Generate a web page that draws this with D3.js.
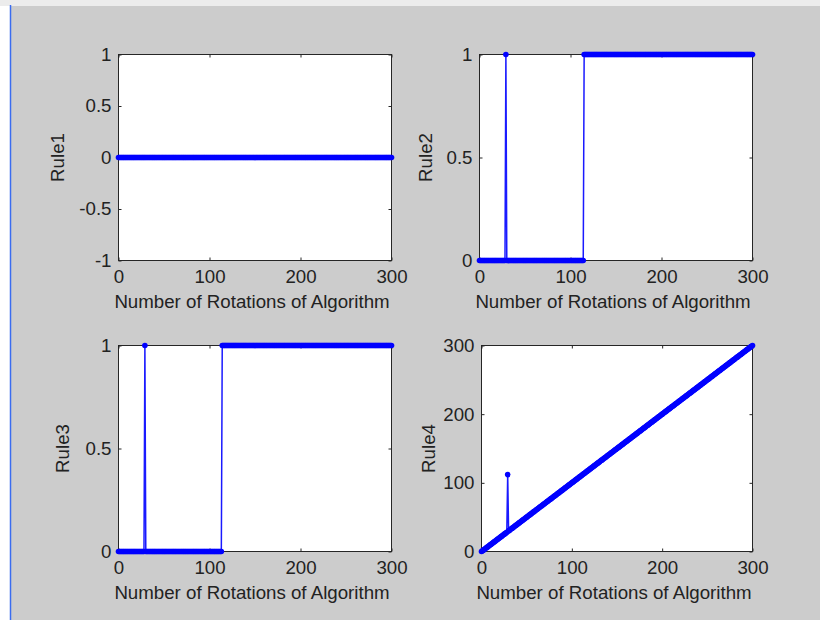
<!DOCTYPE html>
<html>
<head>
<meta charset="utf-8">
<script src="https://cdn.jsdelivr.net/npm/d3@7"></script>
<style>
  body { margin: 0; background: #fff; }
  text { font-family: "Liberation Sans", Arial, sans-serif; fill: #222; }
</style>
</head>
<body>
<div id="fig"></div>
<script>
// x values: rotation number of the algorithm
const rotations = d3.range(0, 301);

// rule values as runs of [value, count]
const rule1Runs = [[0, 301]];
const rule2Runs = [[0, 29], [1, 1], [0, 85], [1, 186]];
const rule3Runs = [[0, 29], [1, 1], [0, 84], [1, 187]];

// rule4 listed point by point (rotations 0..300)
const rule4 = [
  0,1,2,3,4,5,6,7,8,9,10,11,12,13,14,15,16,17,18,19,
  20,21,22,23,24,25,26,27,28,112,30,31,32,33,34,35,36,37,38,39,
  40,41,42,43,44,45,46,47,48,49,50,51,52,53,54,55,56,57,58,59,
  60,61,62,63,64,65,66,67,68,69,70,71,72,73,74,75,76,77,78,79,
  80,81,82,83,84,85,86,87,88,89,90,91,92,93,94,95,96,97,98,99,
  100,101,102,103,104,105,106,107,108,109,110,111,112,113,114,115,116,117,118,119,
  120,121,122,123,124,125,126,127,128,129,130,131,132,133,134,135,136,137,138,139,
  140,141,142,143,144,145,146,147,148,149,150,151,152,153,154,155,156,157,158,159,
  160,161,162,163,164,165,166,167,168,169,170,171,172,173,174,175,176,177,178,179,
  180,181,182,183,184,185,186,187,188,189,190,191,192,193,194,195,196,197,198,199,
  200,201,202,203,204,205,206,207,208,209,210,211,212,213,214,215,216,217,218,219,
  220,221,222,223,224,225,226,227,228,229,230,231,232,233,234,235,236,237,238,239,
  240,241,242,243,244,245,246,247,248,249,250,251,252,253,254,255,256,257,258,259,
  260,261,262,263,264,265,266,267,268,269,270,271,272,273,274,275,276,277,278,279,
  280,281,282,283,284,285,286,287,288,289,290,291,292,293,294,295,296,297,298,299,
  300
];

const xTicks = [0, 100, 200, 300];
const rule1Ticks = [-1, -0.5, 0, 0.5, 1];
const rule23Ticks = [0, 0.5, 1];
const rule4Ticks = [0, 100, 200, 300];
const xLabel = "Number of Rotations of Algorithm";

(function() {
  var width = 820,
      height = 620,
      fontSize = 18.7;

  // expand the runs into one value per rotation
  function expand(runs) {
    var out = [];
    runs.forEach(r => { for (var i = 0; i < r[1]; i++) out.push(r[0]); });
    return out;
  }

  const panels = [
    { name: "Rule1", values: expand(rule1Runs), domain: [-1, 1], ticks: rule1Ticks,
      box: [118.5, 391.5, 54.5, 260.5], labelX: 57 },
    { name: "Rule2", values: expand(rule2Runs), domain: [0, 1], ticks: rule23Ticks,
      box: [479.5, 752.5, 54.5, 260.5], labelX: 425 },
    { name: "Rule3", values: expand(rule3Runs), domain: [0, 1], ticks: rule23Ticks,
      box: [118.5, 391.5, 345.5, 551.5], labelX: 62 },
    { name: "Rule4", values: rule4, domain: [0, 300], ticks: rule4Ticks,
      box: [481.5, 752.5, 345.5, 551.5], labelX: 428 }
  ];

  const svg = d3.select("#fig").append("svg")
                .attr("width", width)
                .attr("height", height);

  // window frame + grey figure background
  svg.append("rect").attr("width", width).attr("height", height).attr("fill", "#fff");
  svg.append("rect").attr("x", 0).attr("y", 0).attr("width", width).attr("height", 6).attr("fill", "#ececec");
  svg.append("rect").attr("x", 11).attr("y", 6).attr("width", width - 11).attr("height", height - 6).attr("fill", "#cccccc");
  svg.append("line").attr("x1", 10.5).attr("x2", 10.5).attr("y1", 5).attr("y2", height)
     .attr("stroke", "#3a6cf0").attr("stroke-width", 1.5);

  panels.forEach(p => {
    var x = d3.scaleLinear().domain([0, 300]).range([p.box[0], p.box[1]]);
    var y = d3.scaleLinear().domain(p.domain).range([p.box[3], p.box[2]]);
    var g = svg.append("g");

    // white axes area
    g.append("rect")
     .attr("x", p.box[0]).attr("y", p.box[2])
     .attr("width", p.box[1] - p.box[0]).attr("height", p.box[3] - p.box[2])
     .attr("fill", "#fff").attr("stroke", "#262626").attr("stroke-width", 1);

    // ticks point inward on all four sides
    var bottom = g.append("g").attr("transform", `translate(0,${p.box[3]})`)
      .call(d3.axisBottom(x).tickValues(xTicks).tickSizeInner(-3).tickSizeOuter(0)
              .tickPadding(9).tickFormat(d => String(d)));
    var top = g.append("g").attr("transform", `translate(0,${p.box[2]})`)
      .call(d3.axisTop(x).tickValues(xTicks).tickSizeInner(-3).tickSizeOuter(0).tickFormat(""));
    var left = g.append("g").attr("transform", `translate(${p.box[0]},0)`)
      .call(d3.axisLeft(y).tickValues(p.ticks).tickSizeInner(-3).tickSizeOuter(0)
              .tickPadding(7).tickFormat(d => String(d)));
    var right = g.append("g").attr("transform", `translate(${p.box[1]},0)`)
      .call(d3.axisRight(y).tickValues(p.ticks).tickSizeInner(-3).tickSizeOuter(0).tickFormat(""));

    [bottom, top, left, right].forEach(a => {
      a.select(".domain").remove();
      a.selectAll(".tick line").attr("stroke", "#262626");
      a.selectAll("text").attr("font-size", fontSize).attr("fill", "#222")
       .attr("font-family", '"Liberation Sans", Arial, sans-serif');
    });

    // axis labels
    g.append("text")
     .attr("x", (p.box[0] + p.box[1]) / 2 - 3)
     .attr("y", p.box[3] + 47)
     .attr("text-anchor", "middle")
     .attr("font-size", fontSize)
     .text(xLabel);
    g.append("text")
     .attr("transform", `translate(${p.labelX},${(p.box[2] + p.box[3]) / 2}) rotate(-90)`)
     .attr("text-anchor", "middle")
     .attr("dy", "0.35em")
     .attr("font-size", fontSize)
     .text(p.name);

    // data line + dot markers
    var pts = rotations.map((r, i) => [r, p.values[i]]);
    g.append("path")
     .datum(pts)
     .attr("d", d3.line().x(d => x(d[0])).y(d => y(d[1])))
     .attr("fill", "none")
     .attr("stroke", "#1a1aff")
     .attr("stroke-width", 1.5);
    g.selectAll("circle")
     .data(pts)
     .join("circle")
     .attr("cx", d => x(d[0]))
     .attr("cy", d => y(d[1]))
     .attr("r", 2.8)
     .attr("fill", "#0000ff");
  });
})();
</script>
</body>
</html>
